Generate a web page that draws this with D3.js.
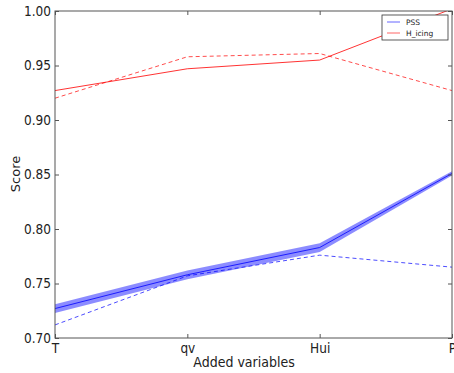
<!DOCTYPE html>
<html>
<head>
<meta charset="utf-8">
<script src="https://cdn.jsdelivr.net/npm/d3@7"></script>
<style>
body { margin: 0; background: #fff; }
text { font-family: "DejaVu Sans", sans-serif; }
</style>
</head>
<body>
<script>
// data
var variables = ['T', 'qv', 'Hui', 'P'];
var pssMean = [0.727, 0.758, 0.783, 0.851];
var pssLow = [0.723, 0.754, 0.779, 0.849];
var pssHigh = [0.731, 0.762, 0.787, 0.853];
var pssDashed = [0.712, 0.757, 0.776, 0.765];
var icingMean = [0.927, 0.947, 0.955, 1.002];
var icingDashed = [0.920, 0.958, 0.961, 0.927];
var yTicks = [0.70, 0.75, 0.80, 0.85, 0.90, 0.95, 1.00];

var width = 454, height = 373;
var mLeft = 55, mRight = 452, mTop = 11, mBottom = 338;
var squeeze = "scale(0.9,1)"; // text in the picture is a bit narrow

var svg = d3.select("body").append("svg")
	.attr("width", width)
	.attr("height", height);

var x = d3.scalePoint().domain(variables).range([mLeft, mRight]);
var y = d3.scaleLinear().domain([0.70, 1.00]).range([mBottom, mTop]);

svg.append("clipPath").attr("id", "clip")
	.append("rect").attr("x", mLeft).attr("y", mTop)
	.attr("width", mRight - mLeft).attr("height", mBottom - mTop);

var plot = svg.append("g").attr("clip-path", "url(#clip)");

var band = d3.area()
	.x(function (d, i) { return x(variables[i]); })
	.y0(function (d, i) { return y(pssLow[i]); })
	.y1(function (d, i) { return y(pssHigh[i]); });

plot.append("path")
	.attr("d", band(pssMean))
	.attr("fill", "#0000ff")
	.attr("fill-opacity", 0.45);

var line = d3.line()
	.x(function (d, i) { return x(variables[i]); })
	.y(function (d) { return y(d); });

var series = [
	{ v: pssMean, c: "#0000ff", dash: null, o: 0.8 },
	{ v: pssDashed, c: "#0000ff", dash: "4,3", o: 0.7 },
	{ v: icingMean, c: "#ff0000", dash: null, o: 0.8 },
	{ v: icingDashed, c: "#ff0000", dash: "4,3", o: 0.7 }
];
series.forEach(function (s) {
	plot.append("path")
		.attr("d", line(s.v))
		.attr("fill", "none")
		.attr("stroke", s.c)
		.attr("stroke-opacity", s.o)
		.attr("stroke-width", 1)
		.attr("stroke-dasharray", s.dash);
});

// axes, matplotlib classic style: ticks inside, on all four sides
var yAxis = d3.axisLeft(y).tickValues(yTicks).tickFormat(d3.format(".2f")).tickSizeInner(-4).tickSizeOuter(0).tickPadding(4.5);
var yAxisR = d3.axisRight(y).tickValues(yTicks).tickFormat("").tickSizeInner(-4).tickSizeOuter(0);
var xAxis = d3.axisBottom(x).tickSizeInner(-4).tickSizeOuter(0).tickPadding(5.5);
var xAxisT = d3.axisTop(x).tickFormat("").tickSizeInner(-4).tickSizeOuter(0);

function styleAxis(g) {
	g.select(".domain").remove();
	g.selectAll(".tick line").attr("stroke", "#555");
	g.selectAll(".tick text").attr("font-size", 13.5).attr("fill", "#222")
		.attr("transform", squeeze)
		.style("font-family", "DejaVu Sans, sans-serif");
}

svg.append("g").attr("transform", "translate(" + mLeft + ",0)").call(yAxis).call(styleAxis);
svg.append("g").attr("transform", "translate(" + mRight + ",0)").call(yAxisR).call(styleAxis);
svg.append("g").attr("transform", "translate(0," + mBottom + ")").call(xAxis).call(styleAxis);
svg.append("g").attr("transform", "translate(0," + mTop + ")").call(xAxisT).call(styleAxis);

svg.append("rect")
	.attr("x", mLeft).attr("y", mTop)
	.attr("width", mRight - mLeft).attr("height", mBottom - mTop)
	.attr("fill", "none").attr("stroke", "#555").attr("stroke-width", 1);

svg.append("text")
	.attr("transform", "translate(244,367) " + squeeze)
	.attr("text-anchor", "middle").attr("font-size", 14).attr("fill", "#222")
	.text("Added variables");

svg.append("text")
	.attr("transform", "translate(19.5,174) rotate(-90)")
	.attr("text-anchor", "middle").attr("font-size", 13).attr("fill", "#222")
	.text("Score");

// legend
var legend = svg.append("g").attr("transform", "translate(382,15)");
legend.append("rect").attr("width", 66).attr("height", 25)
	.attr("fill", "#fff").attr("stroke", "#333").attr("stroke-width", 0.8);
var legendItems = [{ name: "PSS", c: "#0000ff" }, { name: "H_icing", c: "#ff0000" }];
legendItems.forEach(function (d, i) {
	var yy = 7 + i * 11;
	legend.append("line").attr("x1", 5).attr("x2", 18).attr("y1", yy).attr("y2", yy)
		.attr("stroke", d.c).attr("stroke-opacity", 0.6);
	legend.append("text").attr("x", 24).attr("y", yy + 3)
		.attr("font-size", 7.5).attr("fill", "#222").text(d.name);
});
</script>
</body>
</html>
